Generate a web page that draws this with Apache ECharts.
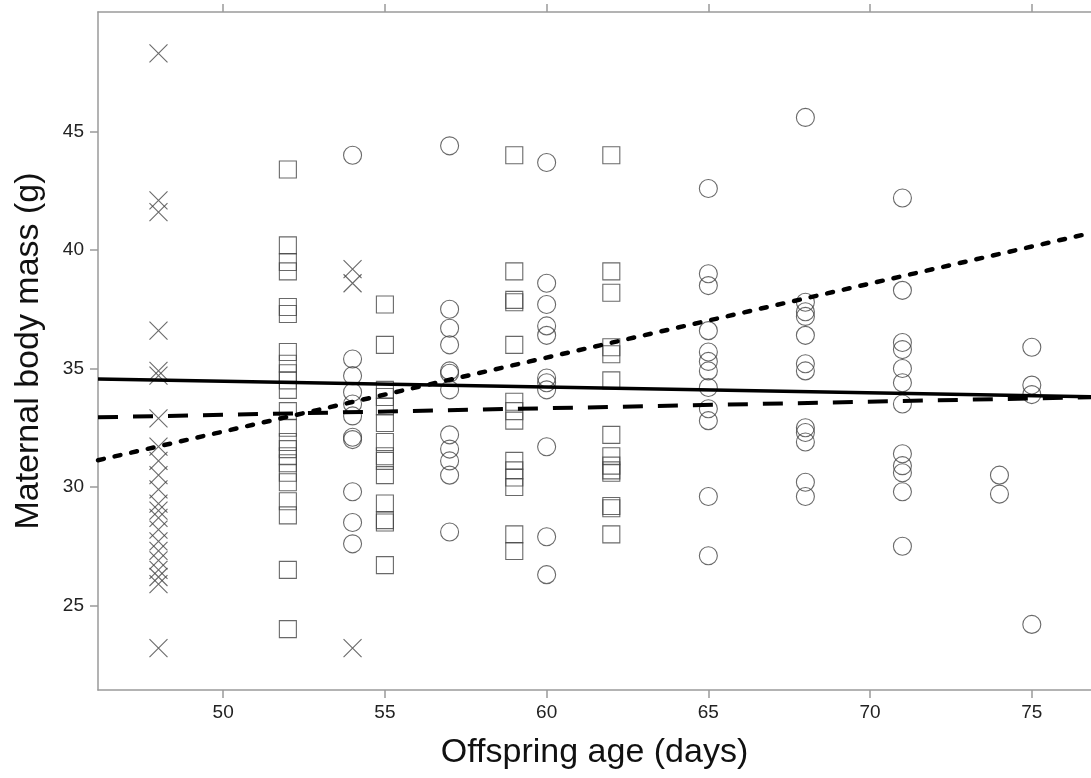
<!DOCTYPE html>
<html>
<head>
<meta charset="utf-8">
<script src="https://cdn.jsdelivr.net/npm/echarts@6/dist/echarts.min.js"></script>
<style>
html,body{margin:0;padding:0;background:#fff;}
#chart{width:1091px;height:778px;}
</style>
</head>
<body>
<div id="chart"></div>
<script>
// ---- Data (offspring age in days, maternal body mass in g) ----
const xTicks = [50, 55, 60, 65, 70, 75];
const yTicks = [25, 30, 35, 40, 45];
const xRange = [46.13, 76.83];
const yRange = [21.43, 50.05];

// crosses
const cross48 = [48.3, 42.1, 41.6, 36.6, 34.9, 34.7, 32.9, 31.7, 31.1, 30.5, 29.9, 29.3, 29.0, 28.7, 28.2, 27.7, 27.3, 26.9, 26.5, 26.2, 25.9, 23.2];
const cross54 = [39.2, 38.6, 23.2];

// squares
const square52 = [43.4, 40.2, 39.5, 39.1, 37.6, 37.3, 35.7, 35.2, 34.8, 34.5, 34.1, 33.2, 32.5, 31.9, 31.6, 31.3, 31.0, 30.6, 30.2, 29.4, 28.8, 26.5, 24.0];
const square55 = [37.7, 36.0, 34.1, 33.8, 33.4, 32.7, 31.9, 31.3, 31.1, 30.5, 29.3, 28.6, 28.5, 26.7];
const square59 = [44.0, 39.1, 37.9, 37.8, 36.0, 33.6, 33.2, 32.8, 31.1, 30.7, 30.4, 30.0, 28.0, 27.3];
const square62 = [44.0, 39.1, 38.2, 35.9, 35.6, 34.5, 32.2, 31.3, 30.9, 30.7, 30.6, 29.2, 29.1, 28.0];

// circles
const circle54 = [44.0, 35.4, 34.7, 34.0, 33.5, 33.0, 32.1, 32.0, 29.8, 28.5, 27.6];
const circle57 = [44.4, 37.5, 36.7, 36.0, 34.9, 34.8, 34.1, 32.2, 31.6, 31.1, 30.5, 28.1];
const circle60 = [43.7, 38.6, 37.7, 36.8, 36.4, 34.6, 34.4, 34.1, 31.7, 27.9, 26.3];
const circle65 = [42.6, 39.0, 38.5, 36.6, 35.7, 35.3, 34.9, 34.2, 33.3, 32.8, 29.6, 27.1];
const circle68 = [45.6, 37.8, 37.4, 37.2, 36.4, 35.2, 34.9, 32.5, 32.3, 31.9, 30.2, 29.6];
const circle71 = [42.2, 38.3, 36.1, 35.8, 35.0, 34.4, 33.5, 31.4, 30.9, 30.6, 29.8, 27.5];
const circle74 = [30.5, 29.7];
const circle75 = [35.9, 34.3, 33.9, 24.2];

// fitted lines (endpoints at the axis limits)
const solidLine  = [[46.13, 34.56], [76.83, 33.81]];
const dashedLine = [[46.13, 32.94], [76.83, 33.79]];
const dottedLine = [[46.13, 31.13], [76.83, 40.72]];

// ---- build ----
function pts(age, arr) { return arr.map(v => [age, v]); }
const crossData = [].concat(pts(48, cross48), pts(54, cross54));
const squareData = [].concat(pts(52, square52), pts(55, square55), pts(59, square59), pts(62, square62));
const circleData = [].concat(pts(54, circle54), pts(57, circle57), pts(60, circle60), pts(65, circle65),
  pts(68, circle68), pts(71, circle71), pts(74, circle74), pts(75, circle75));

const FONT = 'Liberation Sans, Arial, Helvetica, sans-serif';
const AXC = '#9a9a9a';
const markStyle = { color: 'transparent', borderColor: '#444', borderWidth: 1.1 };

const chart = echarts.init(document.getElementById('chart'), null, { renderer: 'canvas' });
chart.setOption({
  animation: false,
  backgroundColor: '#fff',
  grid: { left: 98, right: 0, top: 12, bottom: 88 },
  xAxis: [{
    type: 'value', min: xRange[0], max: xRange[1], position: 'bottom',
    name: 'Offspring age (days)', nameLocation: 'middle', nameGap: 46,
    nameTextStyle: { fontFamily: FONT, fontSize: 34, color: '#111' },
    axisLine: { show: true, lineStyle: { color: AXC, width: 1.5 } },
    axisTick: { show: true, inside: false, length: 8, customValues: xTicks, lineStyle: { color: AXC, width: 1.5 } },
    axisLabel: { show: true, customValues: xTicks, margin: 13, fontFamily: FONT, fontSize: 19, color: '#222' },
    splitLine: { show: false }
  }, {
    type: 'value', min: xRange[0], max: xRange[1], position: 'top',
    axisLine: { show: true, lineStyle: { color: AXC, width: 1.5 } },
    axisTick: { show: true, inside: false, length: 8, customValues: xTicks, lineStyle: { color: AXC, width: 1.5 } },
    axisLabel: { show: false },
    splitLine: { show: false }
  }],
  yAxis: {
    type: 'value', min: yRange[0], max: yRange[1],
    name: 'Maternal body mass (g)', nameLocation: 'middle', nameGap: 52,
    nameTextStyle: { fontFamily: FONT, fontSize: 34, color: '#111' },
    axisLine: { show: true, lineStyle: { color: AXC, width: 1.5 } },
    axisTick: { show: true, inside: false, length: 8, customValues: yTicks, lineStyle: { color: AXC, width: 1.5 } },
    axisLabel: { show: true, customValues: yTicks, margin: 14, fontFamily: FONT, fontSize: 19, color: '#222' },
    splitLine: { show: false }
  },
  series: [
    { type: 'scatter', name: 'cross', data: crossData, symbol: 'path://M0,0L10,10M10,0L0,10', symbolSize: 18,
      itemStyle: markStyle, z: 2 },
    { type: 'scatter', name: 'square', data: squareData, symbol: 'rect', symbolSize: 17,
      itemStyle: markStyle, z: 2 },
    { type: 'scatter', name: 'circle', data: circleData, symbol: 'circle', symbolSize: 18,
      itemStyle: markStyle, z: 2 },
    { type: 'line', data: solidLine, showSymbol: false, symbol: 'none', z: 3,
      lineStyle: { color: '#000', width: 3.5, type: 'solid' } },
    { type: 'line', data: dashedLine, showSymbol: false, symbol: 'none', z: 3,
      lineStyle: { color: '#000', width: 4, type: [20, 15] } },
    { type: 'line', data: dottedLine, showSymbol: false, symbol: 'none', z: 3,
      lineStyle: { color: '#000', width: 4.5, type: [6, 11], cap: 'round' } }
  ]
});
</script>
</body>
</html>
